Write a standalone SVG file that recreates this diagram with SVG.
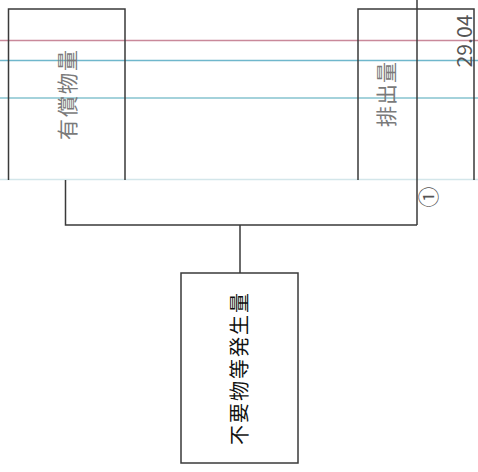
<svg xmlns="http://www.w3.org/2000/svg" width="478" height="472" viewBox="0 0 478 472">
<style>
.box{fill:none;stroke:#3a3a3a;stroke-width:1.5}
.con{fill:none;stroke:#3a3a3a;stroke-width:1.5}
.lbl{font-family:"Noto Sans CJK JP","Liberation Sans",sans-serif;text-anchor:middle;dominant-baseline:central}
.bg{stroke-width:1.5}
</style>
<rect width="478" height="472" fill="#ffffff"/>
<g id="background-lines">
<line class="bg" x1="0" y1="40.5" x2="478" y2="40.5" stroke="#c9899a"/>
<line class="bg" x1="0" y1="60.5" x2="478" y2="60.5" stroke="#6fb7cc"/>
<line class="bg" x1="0" y1="98" x2="478" y2="98" stroke="#86c3cf"/>
<line x1="0" y1="179.5" x2="478" y2="179.5" stroke="#d3e6ea" stroke-width="1.5"/>
</g>
<g id="connectors">
<path class="con" d="M65.5,180 V225 H417"/>
<path class="con" d="M417,0 V225"/>
<path class="con" d="M240,225 V273"/>
</g>
<g id="node-yushoubutsuryou">
<path class="box" d="M8.5,180 V9 H125 V180"/>
<text class="lbl" transform="translate(66,94) rotate(-90)" font-size="21" letter-spacing="2" fill="#7a7a7a">有償物量</text>
</g>
<g id="node-haishutsuryou">
<path class="box" d="M358,180 V9 H474 V180"/>
<text class="lbl" transform="translate(385,94) rotate(-90)" font-size="21" letter-spacing="1" fill="#7a7a7a">排出量</text>
<text class="lbl" transform="translate(463,41) rotate(-90)" font-family="Liberation Sans, sans-serif" font-size="21" textLength="53" lengthAdjust="spacingAndGlyphs" fill="#555">29.04</text>
</g>
<g id="label-1">
<text class="lbl" transform="translate(427,197) rotate(-90)" font-size="21" fill="#555">①</text>
</g>
<g id="node-fuyoubutsu">
<rect class="box" x="181" y="273" width="117" height="190"/>
<text class="lbl" transform="translate(238,368) rotate(-90)" font-size="20" letter-spacing="2" fill="#111">不要物等発生量</text>
</g>
</svg>
